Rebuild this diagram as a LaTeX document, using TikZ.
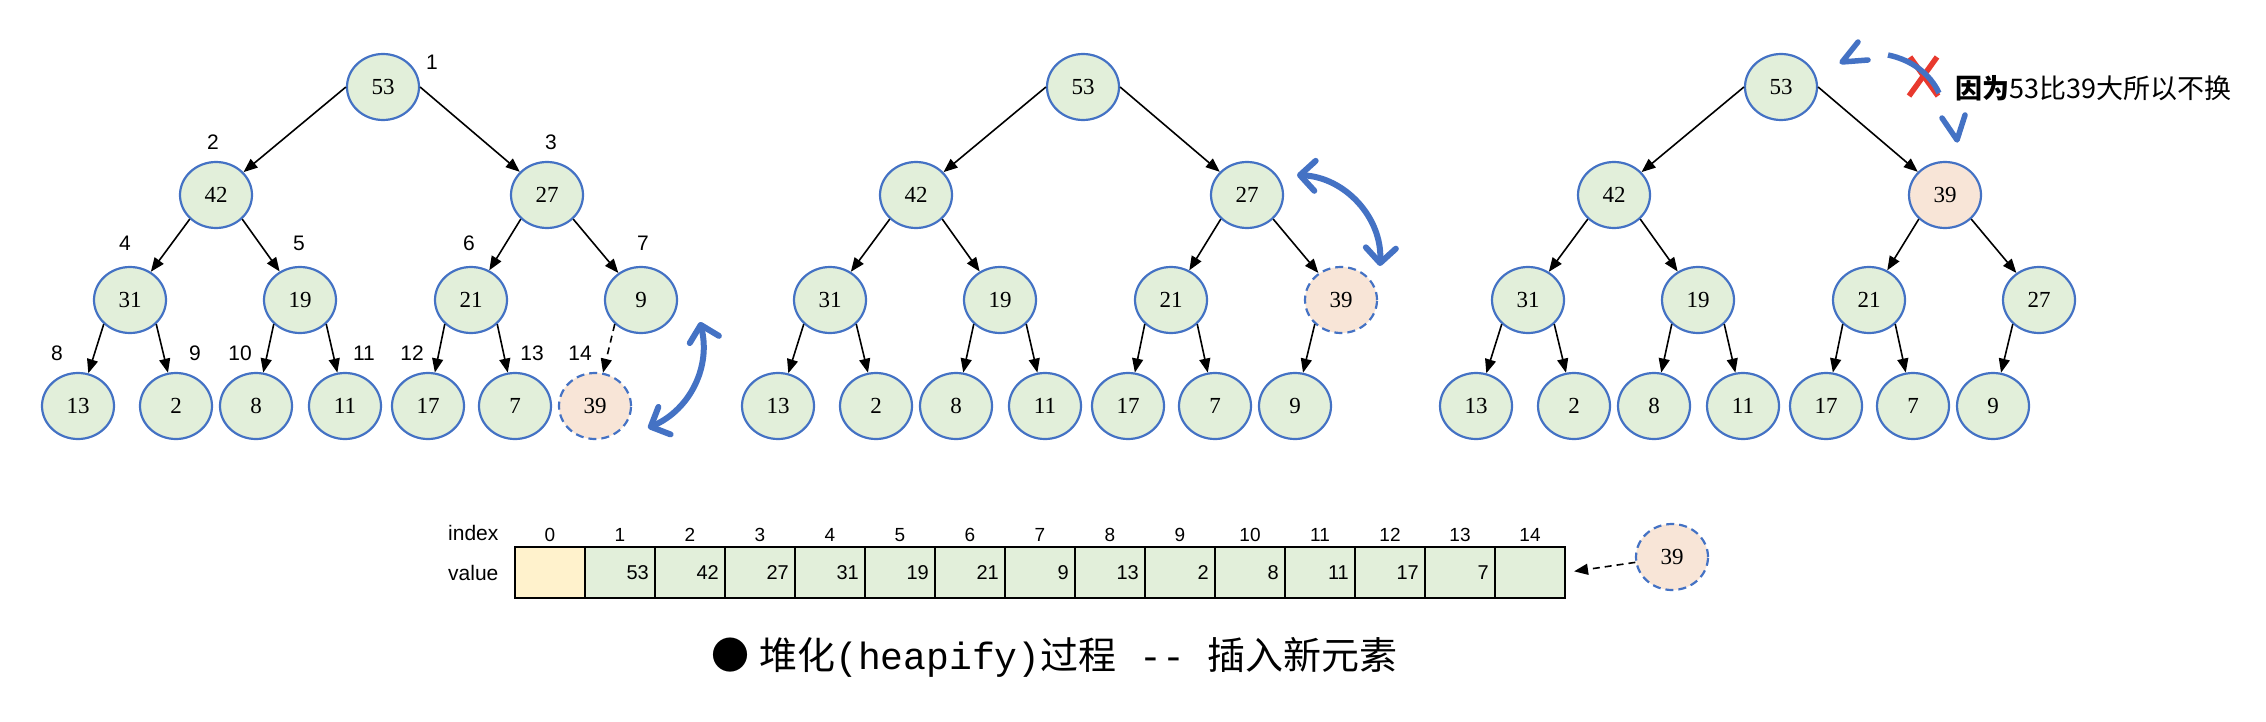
\documentclass[tikz,border=0pt]{standalone}
\usepackage{fontspec}
\setmainfont{Liberation Serif}
\newfontfamily\labelfont{Liberation Sans}
\newfontfamily\cjkfont{Noto Sans CJK SC}
\newfontfamily\titlemono{Liberation Mono}
\usetikzlibrary{shapes.geometric,arrows.meta}
\definecolor{heapblue}{HTML}{4472C4}
\definecolor{heapgreen}{HTML}{E2EFDA}
\definecolor{heappeach}{HTML}{F8E5D7}
\definecolor{cellyellow}{HTML}{FFF2CC}
\definecolor{crossred}{HTML}{E8392E}

\begin{document}
\begin{tikzpicture}[x=1pt,y=1pt]
                \tikzstyle{every node}+=[inner sep=0pt]
                \tikzstyle{heapnode}=[ellipse, draw=heapblue, line width=2.2pt, fill=heapgreen, minimum width=72pt, minimum height=66pt, font=\fontsize{23}{23}\selectfont]
                \tikzstyle{newnode}=[heapnode, fill=heappeach, dash pattern=on 8pt off 5pt]
                \tikzstyle{peachnode}=[heapnode, fill=heappeach]
                \tikzstyle{treeedge}=[black, line width=1.6pt, -{Triangle[length=14pt,width=11pt]}]
                \tikzstyle{swaparrow}=[heapblue, line width=6pt, {Straight Barb[length=15pt,width=30pt,round]}-{Straight Barb[length=15pt,width=30pt,round]}]
                \tikzstyle{chevron}=[heapblue, line width=5.5pt, line cap=round, line join=round]
                \tikzstyle{posnum}=[font=\labelfont\fontsize{21}{21}\selectfont]
                \tikzstyle{cellbox}=[draw, line width=2.2pt, fill=heapgreen, minimum width=70pt, minimum height=51pt]
                \tikzstyle{cellnum}=[font=\labelfont\fontsize{20}{20}\selectfont, anchor=east]
                \tikzstyle{idxnum}=[font=\labelfont\fontsize{19}{19}\selectfont]
                \useasboundingbox (0,0) rectangle (2266,-722);
                % tree 1
                \node[heapnode] (a1) at (383,-87) {53};
                \node[heapnode] (a2) at (216,-195) {42};
                \node[heapnode] (a3) at (547,-195) {27};
                \node[heapnode] (a4) at (130,-300) {31};
                \node[heapnode] (a5) at (300,-300) {19};
                \node[heapnode] (a6) at (471,-300) {21};
                \node[heapnode] (a7) at (641,-300) {9};
                \node[heapnode] (a8) at (78,-406) {13};
                \node[heapnode] (a9) at (176,-406) {2};
                \node[heapnode] (a10) at (256,-406) {8};
                \node[heapnode] (a11) at (345,-406) {11};
                \node[heapnode] (a12) at (428,-406) {17};
                \node[heapnode] (a13) at (515,-406) {7};
                \node[newnode] (a14) at (595,-406) {39};
                \draw[treeedge] (a1.west) -- (a2);
                \draw[treeedge] (a1.east) -- (a3);
                \draw[treeedge] (a2.south west) -- (a4);
                \draw[treeedge] (a2.south east) -- (a5);
                \draw[treeedge] (a3.south west) -- (a6);
                \draw[treeedge] (a3.south east) -- (a7);
                \draw[treeedge] (a4.south west) -- (a8);
                \draw[treeedge] (a4.south east) -- (a9);
                \draw[treeedge] (a5.south west) -- (a10);
                \draw[treeedge] (a5.south east) -- (a11);
                \draw[treeedge] (a6.south west) -- (a12);
                \draw[treeedge] (a6.south east) -- (a13);
                \draw[treeedge, dash pattern=on 7pt off 5pt] (a7.south west) -- (a14);
                \node[posnum] (l1) at (432,-62) {1};
                \node[posnum] (l2) at (213,-142) {2};
                \node[posnum] (l3) at (551,-142) {3};
                \node[posnum] (l4) at (125,-243) {4};
                \node[posnum] (l5) at (299,-243) {5};
                \node[posnum] (l6) at (469,-243) {6};
                \node[posnum] (l7) at (643,-243) {7};
                \node[posnum] (l8) at (57,-353) {8};
                \node[posnum] (l9) at (195,-353) {9};
                \node[posnum] (l10) at (240,-353) {10};
                \node[posnum] (l11) at (364,-353) {11};
                \node[posnum] (l12) at (412,-353) {12};
                \node[posnum] (l13) at (532,-353) {13};
                \node[posnum] (l14) at (580,-353) {14};
                \coordinate (s1a) at (648,-428);
                \coordinate (s1b) at (700,-322);
                \draw[swaparrow] (s1a) to[bend right=40] (s1b);
                % tree 2
                \node[heapnode] (b1) at (1083,-87) {53};
                \node[heapnode] (b2) at (916,-195) {42};
                \node[heapnode] (b3) at (1247,-195) {27};
                \node[heapnode] (b4) at (830,-300) {31};
                \node[heapnode] (b5) at (1000,-300) {19};
                \node[heapnode] (b6) at (1171,-300) {21};
                \node[newnode] (b7) at (1341,-300) {39};
                \node[heapnode] (b8) at (778,-406) {13};
                \node[heapnode] (b9) at (876,-406) {2};
                \node[heapnode] (b10) at (956,-406) {8};
                \node[heapnode] (b11) at (1045,-406) {11};
                \node[heapnode] (b12) at (1128,-406) {17};
                \node[heapnode] (b13) at (1215,-406) {7};
                \node[heapnode] (b14) at (1295,-406) {9};
                \draw[treeedge] (b1.west) -- (b2);
                \draw[treeedge] (b1.east) -- (b3);
                \draw[treeedge] (b2.south west) -- (b4);
                \draw[treeedge] (b2.south east) -- (b5);
                \draw[treeedge] (b3.south west) -- (b6);
                \draw[treeedge] (b3.south east) -- (b7);
                \draw[treeedge] (b4.south west) -- (b8);
                \draw[treeedge] (b4.south east) -- (b9);
                \draw[treeedge] (b5.south west) -- (b10);
                \draw[treeedge] (b5.south east) -- (b11);
                \draw[treeedge] (b6.south west) -- (b12);
                \draw[treeedge] (b6.south east) -- (b13);
                \draw[treeedge] (b7.south west) -- (b14);
                \coordinate (s2a) at (1297,-175);
                \coordinate (s2b) at (1380,-266);
                \draw[swaparrow] (s2a) to[bend left=45] (s2b);
                % tree 3
                \node[heapnode] (c1) at (1781,-87) {53};
                \node[heapnode] (c2) at (1614,-195) {42};
                \node[peachnode] (c3) at (1945,-195) {39};
                \node[heapnode] (c4) at (1528,-300) {31};
                \node[heapnode] (c5) at (1698,-300) {19};
                \node[heapnode] (c6) at (1869,-300) {21};
                \node[heapnode] (c7) at (2039,-300) {27};
                \node[heapnode] (c8) at (1476,-406) {13};
                \node[heapnode] (c9) at (1574,-406) {2};
                \node[heapnode] (c10) at (1654,-406) {8};
                \node[heapnode] (c11) at (1743,-406) {11};
                \node[heapnode] (c12) at (1826,-406) {17};
                \node[heapnode] (c13) at (1913,-406) {7};
                \node[heapnode] (c14) at (1993,-406) {9};
                \draw[treeedge] (c1.west) -- (c2);
                \draw[treeedge] (c1.east) -- (c3);
                \draw[treeedge] (c2.south west) -- (c4);
                \draw[treeedge] (c2.south east) -- (c5);
                \draw[treeedge] (c3.south west) -- (c6);
                \draw[treeedge] (c3.south east) -- (c7);
                \draw[treeedge] (c4.south west) -- (c8);
                \draw[treeedge] (c4.south east) -- (c9);
                \draw[treeedge] (c5.south west) -- (c10);
                \draw[treeedge] (c5.south east) -- (c11);
                \draw[treeedge] (c6.south west) -- (c12);
                \draw[treeedge] (c6.south east) -- (c13);
                \draw[treeedge] (c7.south west) -- (c14);
                \draw[crossred, line width=5.5pt] (1910,-57) -- (1938,-96);
                \draw[crossred, line width=5.5pt] (1937,-57) -- (1909,-96);
                % no-swap marker, broken in three strokes
                \coordinate (s3a) at (1842,-62);
                \coordinate (s3b) at (1957,-140);
                \draw[chevron] (1858,-42) -- (s3a) -- (1868,-60);
                \draw[heapblue, line width=5.5pt] (1888,-55) .. controls (1912,-60) and (1930,-74) .. (1939,-93);
                \draw[chevron] (1942,-118) -- (s3b) -- (1965,-115);
                \node[anchor=west, font=\cjkfont\fontsize{27}{27}\selectfont] (note) at (1955,-88) {{\bfseries 因为}53比39大所以不换};
                % array
                \node[anchor=west, font=\labelfont\fontsize{21}{21}\selectfont] (idx) at (448,-533) {index};
                \node[anchor=west, font=\labelfont\fontsize{21}{21}\selectfont] (val) at (448,-573) {value};
                \node[cellbox, fill=cellyellow] (cell0) at (550,-572.5) {};
                \node[cellbox] (cell1) at (620,-572.5) {};
                \node[cellbox] (cell2) at (690,-572.5) {};
                \node[cellbox] (cell3) at (760,-572.5) {};
                \node[cellbox] (cell4) at (830,-572.5) {};
                \node[cellbox] (cell5) at (900,-572.5) {};
                \node[cellbox] (cell6) at (970,-572.5) {};
                \node[cellbox] (cell7) at (1040,-572.5) {};
                \node[cellbox] (cell8) at (1110,-572.5) {};
                \node[cellbox] (cell9) at (1180,-572.5) {};
                \node[cellbox] (cell10) at (1250,-572.5) {};
                \node[cellbox] (cell11) at (1320,-572.5) {};
                \node[cellbox] (cell12) at (1390,-572.5) {};
                \node[cellbox] (cell13) at (1460,-572.5) {};
                \node[cellbox] (cell14) at (1530,-572.5) {};
                \node[cellnum] (v1) at (649,-573) {53};
                \node[cellnum] (v2) at (719,-573) {42};
                \node[cellnum] (v3) at (789,-573) {27};
                \node[cellnum] (v4) at (859,-573) {31};
                \node[cellnum] (v5) at (929,-573) {19};
                \node[cellnum] (v6) at (999,-573) {21};
                \node[cellnum] (v7) at (1069,-573) {9};
                \node[cellnum] (v8) at (1139,-573) {13};
                \node[cellnum] (v9) at (1209,-573) {2};
                \node[cellnum] (v10) at (1279,-573) {8};
                \node[cellnum] (v11) at (1349,-573) {11};
                \node[cellnum] (v12) at (1419,-573) {17};
                \node[cellnum] (v13) at (1489,-573) {7};
                \node[idxnum] (i0) at (550,-535) {0};
                \node[idxnum] (i1) at (620,-535) {1};
                \node[idxnum] (i2) at (690,-535) {2};
                \node[idxnum] (i3) at (760,-535) {3};
                \node[idxnum] (i4) at (830,-535) {4};
                \node[idxnum] (i5) at (900,-535) {5};
                \node[idxnum] (i6) at (970,-535) {6};
                \node[idxnum] (i7) at (1040,-535) {7};
                \node[idxnum] (i8) at (1110,-535) {8};
                \node[idxnum] (i9) at (1180,-535) {9};
                \node[idxnum] (i10) at (1250,-535) {10};
                \node[idxnum] (i11) at (1320,-535) {11};
                \node[idxnum] (i12) at (1390,-535) {12};
                \node[idxnum] (i13) at (1460,-535) {13};
                \node[idxnum] (i14) at (1530,-535) {14};
                \node[newnode] (n39) at (1672,-557) {39};
                \draw[treeedge, dash pattern=on 7pt off 5pt, shorten >=8pt] (n39) -- (cell14.east);
                % title
                \node[anchor=west, font=\cjkfont\fontsize{38}{38}\selectfont] (title) at (711,-657) {●\hspace{10pt}堆化{\titlemono (heapify)}过程{\titlemono\ -{}-\ }插入新元素};
            \end{tikzpicture}
\end{document}
